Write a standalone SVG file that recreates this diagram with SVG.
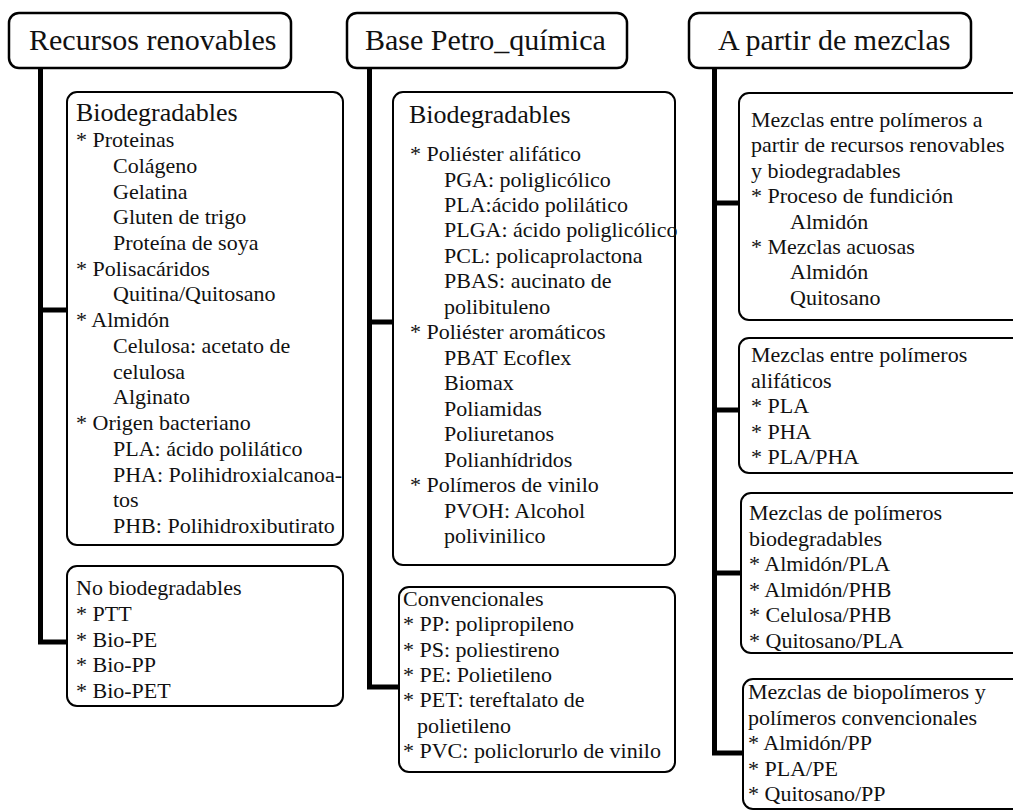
<svg xmlns="http://www.w3.org/2000/svg" width="1013" height="810" viewBox="0 0 1013 810" font-family="'Liberation Serif', 'Times New Roman', Times, serif">
<style>
.hdr{fill:#fff;stroke:#000;stroke-width:2.5}
.box{fill:#fff;stroke:#000;stroke-width:2}
.h{font-size:30px;fill:#111;font-family:'Liberation Serif','Times New Roman',Times,serif}
.t{font-size:26px;fill:#111;font-family:'Liberation Serif','Times New Roman',Times,serif}
.i{font-size:22px;fill:#111;font-family:'Liberation Serif','Times New Roman',Times,serif}
.con{fill:none;stroke:#000;stroke-width:5;stroke-linejoin:miter;stroke-linecap:butt}
</style>
<rect width="1013" height="810" fill="#fff"/>
<g id="connectors">
<path class="con" d="M40.5 68 V642 H67 M40.5 310 H67"/>
<path class="con" d="M369.5 68 V687 H399 M369.5 322 H393"/>
<path class="con" d="M714.5 68 V753 H743 M714.5 203 H739 M714.5 410 H739 M714.5 573 H741"/>
</g>
<g id="h1"><rect class="hdr" x="9" y="13" width="282" height="55" rx="10"/><text class="h" x="29" y="50">Recursos renovables</text></g>
<g id="h2"><rect class="hdr" x="347" y="13" width="280" height="55" rx="10"/><text class="h" x="365" y="50">Base Petro_química</text></g>
<g id="h3"><rect class="hdr" x="689" y="13" width="282" height="55" rx="10"/><text class="h" x="718" y="50">A partir de mezclas</text></g>

<g id="c1b1"><rect class="box" x="67" y="92" width="276" height="453" rx="10"/>
<text class="t" x="76" y="121">Biodegradables</text>
<text class="i" x="76" y="147">* Proteinas</text>
<text class="i" x="113" y="172.7">Colágeno</text>
<text class="i" x="113" y="198.5">Gelatina</text>
<text class="i" x="113" y="224.2">Gluten de trigo</text>
<text class="i" x="113" y="249.9">Proteína de soya</text>
<text class="i" x="76" y="275.7">* Polisacáridos</text>
<text class="i" x="113" y="301.4">Quitina/Quitosano</text>
<text class="i" x="76" y="327.1">* Almidón</text>
<text class="i" x="113" y="352.8">Celulosa: acetato de</text>
<text class="i" x="113" y="378.6">celulosa</text>
<text class="i" x="113" y="404.3">Alginato</text>
<text class="i" x="76" y="430">* Origen bacteriano</text>
<text class="i" x="113" y="455.8">PLA: ácido polilático</text>
<text class="i" x="113" y="481.5">PHA: Polihidroxialcanoa-</text>
<text class="i" x="113" y="507.2">tos</text>
<text class="i" x="113" y="533">PHB: Polihidroxibutirato</text>
</g>

<g id="c1b2"><rect class="box" x="67" y="566" width="276" height="140" rx="10"/>
<text class="i" x="76" y="595">No biodegradables</text>
<text class="i" x="76" y="621">* PTT</text>
<text class="i" x="76" y="647">* Bio-PE</text>
<text class="i" x="76" y="672">* Bio-PP</text>
<text class="i" x="76" y="698">* Bio-PET</text>
</g>

<g id="c2b1"><rect class="box" x="393" y="92" width="282" height="473" rx="10"/>
<text class="t" x="409" y="123">Biodegradables</text>
<text class="i" x="410" y="161">* Poliéster alifático</text>
<text class="i" x="444" y="186.5">PGA: poliglicólico</text>
<text class="i" x="444" y="211.9">PLA:ácido polilático</text>
<text class="i" x="444" y="237.4">PLGA: ácido poliglicólico</text>
<text class="i" x="444" y="262.9">PCL: policaprolactona</text>
<text class="i" x="444" y="288.4">PBAS: aucinato de</text>
<text class="i" x="444" y="313.8">polibituleno</text>
<text class="i" x="410" y="339.3">* Poliéster aromáticos</text>
<text class="i" x="444" y="364.8">PBAT Ecoflex</text>
<text class="i" x="444" y="390.2">Biomax</text>
<text class="i" x="444" y="415.7">Poliamidas</text>
<text class="i" x="444" y="441.2">Poliuretanos</text>
<text class="i" x="444" y="466.6">Polianhídridos</text>
<text class="i" x="410" y="492.1">* Polímeros de vinilo</text>
<text class="i" x="444" y="517.6">PVOH: Alcohol</text>
<text class="i" x="444" y="543">polivinilico</text>
</g>

<g id="c2b2"><rect class="box" x="399" y="587" width="276" height="185" rx="10"/>
<text class="i" x="403" y="606">Convencionales</text>
<text class="i" x="403" y="631.3">* PP: polipropileno</text>
<text class="i" x="403" y="656.6">* PS: poliestireno</text>
<text class="i" x="403" y="681.9">* PE: Polietileno</text>
<text class="i" x="403" y="707.2">* PET: tereftalato de</text>
<text class="i" x="417" y="732.5">polietileno</text>
<text class="i" x="403" y="757.8">* PVC: policlorurlo de vinilo</text>
</g>

<g id="c3b1"><rect class="box" x="739" y="93" width="290" height="227" rx="10"/>
<text class="i" x="751" y="127">Mezclas entre polímeros a</text>
<text class="i" x="751" y="152.4">partir de recursos renovables</text>
<text class="i" x="751" y="177.8">y biodegradables</text>
<text class="i" x="751" y="203.2">* Proceso de fundición</text>
<text class="i" x="790" y="228.6">Almidón</text>
<text class="i" x="751" y="254">* Mezclas acuosas</text>
<text class="i" x="790" y="279.4">Almidón</text>
<text class="i" x="790" y="304.8">Quitosano</text>
</g>

<g id="c3b2"><rect class="box" x="739" y="338" width="290" height="135" rx="10"/>
<text class="i" x="751" y="362">Mezclas entre polímeros</text>
<text class="i" x="751" y="387.5">alifáticos</text>
<text class="i" x="751" y="413">* PLA</text>
<text class="i" x="751" y="438.5">* PHA</text>
<text class="i" x="751" y="464">* PLA/PHA</text>
</g>

<g id="c3b3"><rect class="box" x="741" y="493" width="290" height="160" rx="10"/>
<text class="i" x="749" y="520">Mezclas de polímeros</text>
<text class="i" x="749" y="545.6">biodegradables</text>
<text class="i" x="749" y="571.2">* Almidón/PLA</text>
<text class="i" x="749" y="596.8">* Almidón/PHB</text>
<text class="i" x="749" y="622.4">* Celulosa/PHB</text>
<text class="i" x="749" y="648">* Quitosano/PLA</text>
</g>

<g id="c3b4"><rect class="box" x="743" y="679" width="290" height="130" rx="10"/>
<text class="i" x="748" y="699">Mezclas de biopolímeros y</text>
<text class="i" x="748" y="724.5">polímeros convencionales</text>
<text class="i" x="748" y="750">* Almidón/PP</text>
<text class="i" x="748" y="775.5">* PLA/PE</text>
<text class="i" x="748" y="801">* Quitosano/PP</text>
</g>
</svg>
